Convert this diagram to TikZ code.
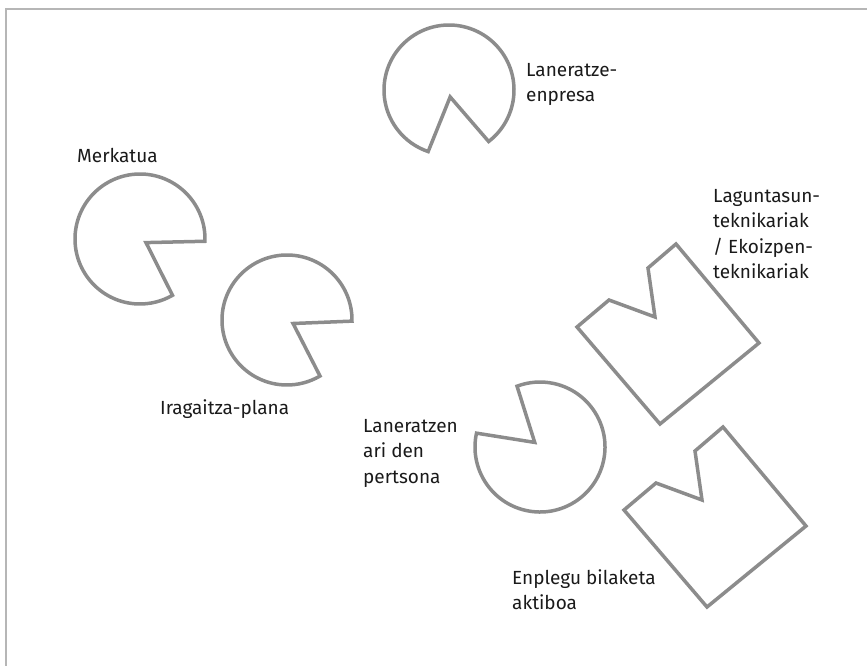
\documentclass[tikz,border=0pt]{standalone}
\usepackage{fontspec}
\setmainfont{Fira Sans}
\usetikzlibrary{calc}
\definecolor{shapegray}{RGB}{140,140,140}
\definecolor{framegray}{RGB}{182,182,182}
\definecolor{textblack}{RGB}{26,26,26}

\begin{document}
\begin{tikzpicture}[x=1pt,y=1pt,
    outline/.style={draw=shapegray,line width=3.5pt,line join=miter},
    lbl/.style={anchor=north west,inner sep=0pt,align=left,text=textblack,
        font=\fontsize{19}{25.5}\selectfont}]
                        \useasboundingbox (0,0) rectangle (867,-666);
                        \draw[framegray,line width=1.6pt] (6,-666) -- (6,-9) -- (867,-9);
                        % pieces with a round body
                        \draw[outline] (449,-90) ++(-52.4:65) arc[start angle=-52.4,end angle=251.3,radius=65]
                            -- ($(449,-90)+(-80.5:7)$) -- cycle;
                        \draw[outline] (140,-239) ++(-2:65) arc[start angle=-2,end angle=300,radius=65]
                            -- ($(140,-239)+(-31:7)$) -- cycle;
                        \draw[outline] (287,-320) ++(-1:65) arc[start angle=-1,end angle=300.5,radius=65]
                            -- ($(287,-320)+(-30:7)$) -- cycle;
                        \draw[outline] (540,-447) ++(167.7:65) arc[start angle=167.7,end angle=470.7,radius=65]
                            -- ($(540,-447)+(139:7)$) -- cycle;
                        % pieces with a square body
                        \draw[outline,shift={(0,0)}] (577,-327) -- (609,-300) -- (655,-317) -- (648,-268)
                            -- (676,-244) -- (759,-343) -- (660,-424) -- cycle;
                        \draw[outline,shift={(47,-183)}] (577,-327) -- (609,-300) -- (655,-317) -- (648,-268)
                            -- (676,-244) -- (759,-343) -- (660,-424) -- cycle;
                        % labels
                        \node[lbl] (enpresa) at (526,-63) {Laneratze-\\enpresa};
                        \node[lbl] (merkatua) at (77,-148) {Merkatua};
                        \node[lbl] (teknikariak) at (713,-189) {Laguntasun-\\teknikariak\\/ Ekoizpen-\\teknikariak};
                        \node[lbl] (plana) at (160,-399) {Iragaitza-plana};
                        \node[lbl] (pertsona) at (363,-419) {Laneratzen\\ari den\\pertsona};
                        \node[lbl] (bilaketa) at (512,-569) {Enplegu bilaketa\\aktiboa};
                    \end{tikzpicture}
\end{document}
